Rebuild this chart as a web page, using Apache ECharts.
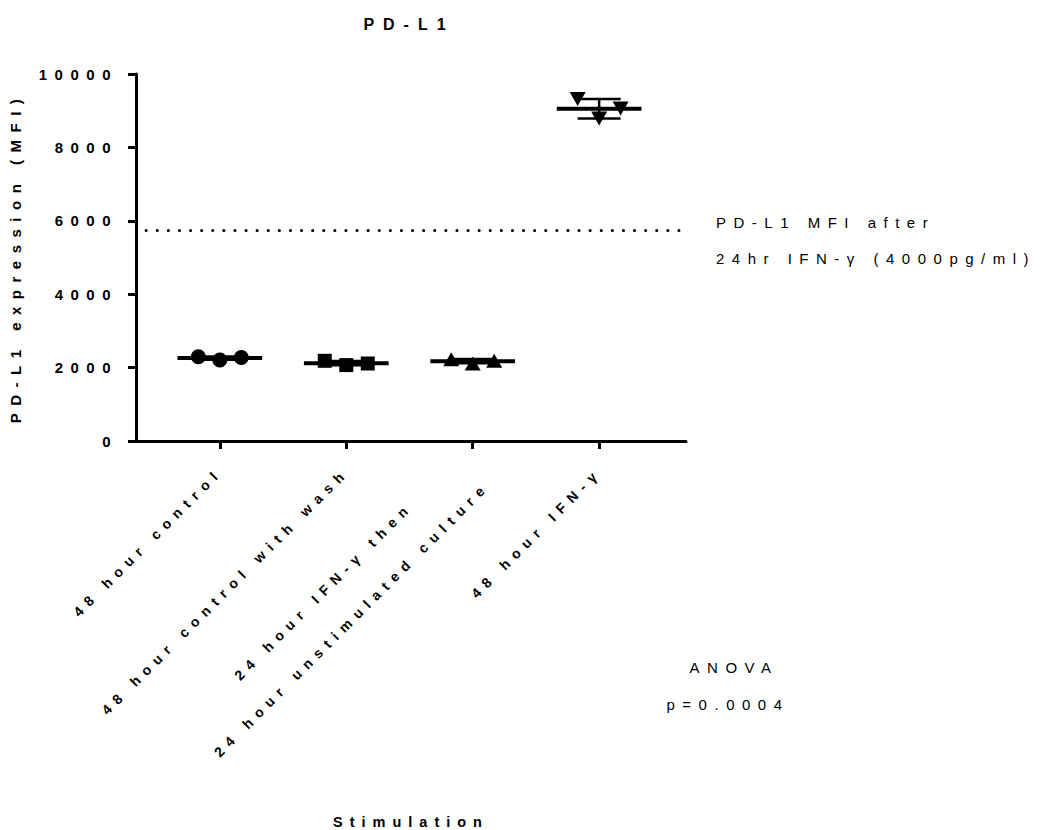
<!DOCTYPE html>
<html>
<head>
<meta charset="utf-8">
<script src="https://cdn.jsdelivr.net/npm/echarts@6.0.0/dist/echarts.min.js"></script>
<style>
html,body{margin:0;padding:0;background:#fff;}
#chart{width:1040px;height:830px;}
#chart text{letter-spacing:7px;}
#chart text[style*="16px"]{letter-spacing:9px;}
#chart text[style*="15px"]{letter-spacing:7.5px;}
#chart text[style*="14px"]{letter-spacing:6.8px;}
#chart text[style*="14.5px"]{letter-spacing:7px;}
</style>
</head>
<body>
<div id="chart"></div>
<script>
// ---------------- data ----------------
const categories = [
  '48 hour control',
  '48 hour control with wash',
  '24 hour IFN-γ then\n24 hour unstimulated culture',
  '48 hour IFN-γ'
];
const controlValues = [2294, 2207, 2275];
const washValues = [2185, 2068, 2112];
const ifnThenUnstimValues = [2226, 2112, 2185];
const ifn48Values = [9319, 8788, 9060];
const referenceMFI = 5750;          // PD-L1 MFI after 24hr IFN-γ (4000pg/ml)
const yTicks = [0, 2000, 4000, 6000, 8000, 10000];
const titleText = 'PD-L1';
const yTitle = 'PD-L1 expression (MFI)';
const xTitle = 'Stimulation';
const refNote1 = 'PD-L1 MFI after';
const refNote2 = '24hr IFN-γ (4000pg/ml)';
const statNote1 = 'ANOVA';
const statNote2 = 'p=0.0004';

// ---------------- layout / style ----------------
const FONT = "'Liberation Sans', Arial, sans-serif";
const X_MIN = -0.663, X_MAX = 3.687;
const JITTER = [-0.17, 0, 0.17];
const MEAN_HALF = 0.335, CAP_HALF = 0.17;
const XLABEL_SIZE = 14, XLABEL_SPACING = 6.8;
const symbols = [
  {symbol: 'circle', size: 15, rotate: 0},
  {symbol: 'rect', size: 14, rotate: 0},
  {symbol: 'triangle', size: [16, 14], rotate: 0},
  {symbol: 'triangle', size: [16, 14], rotate: 180}
];

const groups = [controlValues, washValues, ifnThenUnstimValues, ifn48Values];
const mean = a => a.reduce((s, v) => s + v, 0) / a.length;
const sd = a => { const m = mean(a); return Math.sqrt(a.reduce((s, v) => s + (v - m) * (v - m), 0) / (a.length - 1)); };
const summary = groups.map((g, i) => [i, mean(g), sd(g)]);
const tickPositions = categories.map((c, i) => i);

// measure letter-spaced label lines so that centred multi-line labels are placed correctly
const measureCtx = document.createElement('canvas').getContext('2d');
measureCtx.font = 'bold ' + XLABEL_SIZE + 'px ' + FONT;
const labelRich = {};
const labelKeys = categories.map((c, i) => c.split('\n').map((t, j) => {
  const key = 'l' + i + '_' + j;
  labelRich[key] = {
    align: 'center', width: measureCtx.measureText(t).width + t.length * XLABEL_SPACING,
    fontFamily: FONT, fontSize: XLABEL_SIZE, fontWeight: 'bold', color: '#000', lineHeight: 40
  };
  return '{' + key + '|' + t + '}';
}).join('\n'));

const chart = echarts.init(document.getElementById('chart'), null, {renderer: 'svg'});

const scatterSeries = groups.map((g, i) => ({
  type: 'scatter',
  data: g.map((v, j) => [i + JITTER[j], v]),
  symbol: symbols[i].symbol,
  symbolSize: symbols[i].size,
  symbolRotate: symbols[i].rotate,
  itemStyle: {color: '#000', opacity: 1},
  z: 3,
  silent: true
}));

scatterSeries[0].markLine = {
  silent: true,
  symbol: ['none', 'none'],
  label: {show: false},
  lineStyle: {color: '#000', width: 3, type: [0.1, 11], cap: 'round', dashOffset: 1.1},
  data: [{yAxis: referenceMFI}]
};

const summarySeries = {
  type: 'custom',
  data: summary,
  encode: {x: 0, y: 1},
  z: 2,
  silent: true,
  renderItem: function (params, api) {
    const i = api.value(0), m = api.value(1), s = api.value(2);
    const l = api.coord([i - MEAN_HALF, m]);
    const r = api.coord([i + MEAN_HALF, m]);
    const top = api.coord([i, m + s]);
    const bot = api.coord([i, m - s]);
    const cl = api.coord([i - CAP_HALF, m])[0];
    const cr = api.coord([i + CAP_HALF, m])[0];
    const st = {stroke: '#000', lineWidth: 2.5};
    return {
      type: 'group',
      children: [
        {type: 'line', shape: {x1: top[0], y1: top[1], x2: bot[0], y2: bot[1]}, style: st},
        {type: 'line', shape: {x1: cl, y1: top[1], x2: cr, y2: top[1]}, style: st},
        {type: 'line', shape: {x1: cl, y1: bot[1], x2: cr, y2: bot[1]}, style: st},
        {type: 'line', shape: {x1: l[0], y1: l[1], x2: r[0], y2: r[1]}, style: {stroke: '#000', lineWidth: 4}}
      ]
    };
  }
};

const option = {
  animation: false,
  backgroundColor: '#fff',
  title: {
    text: titleText, left: 404, top: 11, textAlign: 'center',
    textStyle: {fontFamily: FONT, fontSize: 16, fontWeight: 'bold', color: '#000'}
  },
  grid: {left: 135, right: 354, top: 74, bottom: 389, containLabel: false},
  xAxis: {
    type: 'value', min: X_MIN, max: X_MAX,
    splitLine: {show: false},
    axisLine: {show: true, onZero: false, lineStyle: {color: '#000', width: 3}},
    axisTick: {show: true, customValues: tickPositions, length: 8, lineStyle: {color: '#000', width: 3}},
    axisLabel: {
      customValues: tickPositions, rotate: 45, margin: 29,
      fontFamily: FONT, fontSize: XLABEL_SIZE, fontWeight: 'bold', color: '#000',
      formatter: v => labelKeys[Math.round(v)],
      rich: labelRich
    },
    name: xTitle, nameLocation: 'middle', nameGap: 373,
    nameTextStyle: {fontFamily: FONT, fontSize: 14.5, fontWeight: 'bold', color: '#000'}
  },
  yAxis: {
    type: 'value', min: 0, max: 10000,
    splitLine: {show: false},
    axisLine: {show: true, onZero: false, lineStyle: {color: '#000', width: 3}},
    axisTick: {show: true, customValues: yTicks, length: 8, lineStyle: {color: '#000', width: 3}},
    axisLabel: {customValues: yTicks, margin: 18, fontFamily: FONT, fontSize: 15, fontWeight: 'bold', color: '#000',
      formatter: v => String(v)},
    name: yTitle, nameLocation: 'middle', nameGap: 113,
    nameTextStyle: {fontFamily: FONT, fontSize: 15, fontWeight: 'bold', color: '#000'}
  },
  graphic: [
    {type: 'text', x: 716, y: 222, silent: true, style: {text: refNote1, fontFamily: FONT, fontSize: 15, fill: '#000', align: 'left', verticalAlign: 'middle'}},
    {type: 'text', x: 716, y: 258, silent: true, style: {text: refNote2, fontFamily: FONT, fontSize: 15, fill: '#000', align: 'left', verticalAlign: 'middle'}},
    {type: 'text', x: 734, y: 667, silent: true, style: {text: statNote1, fontFamily: FONT, fontSize: 15, fill: '#000', align: 'center', verticalAlign: 'middle'}},
    {type: 'text', x: 728, y: 704, silent: true, style: {text: statNote2, fontFamily: FONT, fontSize: 15, fill: '#000', align: 'center', verticalAlign: 'middle'}}
  ],
  series: [summarySeries].concat(scatterSeries)
};

chart.setOption(option);
</script>
</body>
</html>
